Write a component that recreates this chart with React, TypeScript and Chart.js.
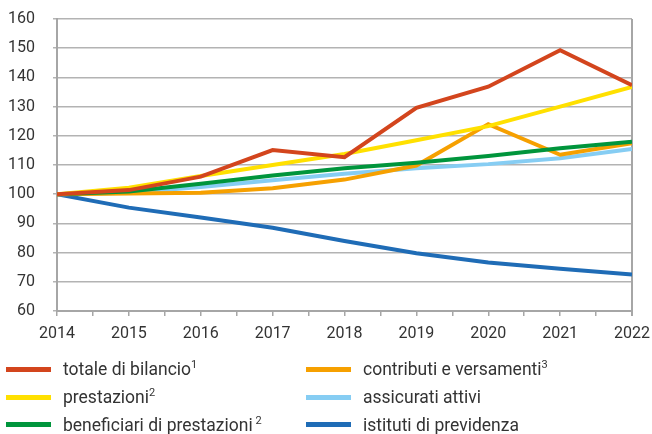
import React, { useEffect, useRef } from "react";
import { Chart, registerables } from "chart.js";

Chart.register(...registerables);

const years = [2014, 2015, 2016, 2017, 2018, 2019, 2020, 2021, 2022];
const totaleDiBilancio = [100, 101.4, 106, 115.1, 112.7, 129.6, 136.8, 149.3, 137.3];
const prestazioni = [100, 102.2, 106.2, 110, 113.8, 118.5, 123.3, 130, 136.7];
const beneficiari = [100, 100.9, 103.6, 106.4, 108.9, 110.8, 113.1, 115.7, 118];
const contributi = [100, 100.2, 100.5, 102, 105, 109.8, 124, 113.5, 117.5];
const assicurati = [100, 100.5, 102.5, 104.8, 107, 108.9, 110.3, 112.3, 115.5];
const istituti = [100, 95.4, 92, 88.5, 84, 79.8, 76.6, 74.5, 72.5];
const yTicks = [60, 70, 80, 90, 100, 110, 120, 130, 140, 150, 160];

const seriesLabels = [
  "totale di bilancio",
  "prestazioni",
  "beneficiari di prestazioni",
  "contributi e versamenti",
  "assicurati attivi",
  "istituti di previdenza",
];
const seriesNotes = ["1", "2", " 2", "3", "", ""];
const seriesColors = ["#d3451d", "#ffe000", "#00953c", "#f6a000", "#86cdf3", "#1f6cb6"];
const seriesData = [totaleDiBilancio, prestazioni, beneficiari, contributi, assicurati, istituti];

const FONT = "Roboto, 'Noto Sans', sans-serif";

const frame = {
  id: "frame",
  beforeDatasetsDraw(chart: any) {
    const { ctx, chartArea } = chart;
    ctx.save();
    ctx.strokeStyle = "#a6a6a6";
    ctx.lineWidth = 2;
    ctx.beginPath();
    ctx.moveTo(chartArea.right, chartArea.top);
    ctx.lineTo(chartArea.right, chartArea.bottom + 5);
    ctx.stroke();
    ctx.restore();
  },
};

export default function App() {
  const ref = useRef<HTMLCanvasElement | null>(null);

  useEffect(() => {
    if (!ref.current) return;
    const chart = new Chart(ref.current, {
      type: "line",
      data: {
        datasets: seriesLabels.map((lab, i) => ({
          label: lab,
          data: years.map((y, k) => ({ x: y, y: seriesData[i][k] })),
          borderColor: seriesColors[i],
          backgroundColor: seriesColors[i],
          borderWidth: 4,
          pointRadius: 0,
          tension: 0,
          fill: false,
        })),
      },
      options: {
        animation: false,
        responsive: false,
        maintainAspectRatio: false,
        layout: { autoPadding: false, padding: { left: 7, right: 20, top: 19, bottom: 91 } },
        plugins: { legend: { display: false }, tooltip: { enabled: false } },
        scales: {
          x: {
            type: "linear",
            min: years[0],
            max: years[years.length - 1],
            afterFit: (axis: any) => {
              axis.height = 32;
              axis.paddingLeft = 0;
              axis.paddingRight = 0;
            },
            ticks: {
              stepSize: 0.5,
              autoSkip: false,
              maxRotation: 0,
              padding: 8,
              color: "#333333",
              font: { family: FONT, size: 16 },
              callback: (v: any) => (Number.isInteger(v) ? String(v) : ""),
            },
            grid: {
              drawOnChartArea: false,
              drawTicks: true,
              tickLength: 5,
              color: "#a6a6a6",
              lineWidth: 1.5,
            },
            border: { color: "#a6a6a6", width: 2 },
          },
          y: {
            min: yTicks[0],
            max: yTicks[yTicks.length - 1],
            afterFit: (axis: any) => {
              axis.width = 50;
              axis.paddingTop = 0;
              axis.paddingBottom = 0;
            },
            afterBuildTicks: (axis: any) => {
              axis.ticks = yTicks.map((v) => ({ value: v }));
            },
            ticks: {
              padding: 18,
              color: "#333333",
              font: { family: FONT, size: 16 },
            },
            grid: {
              color: "#b3b3b3",
              lineWidth: 1.5,
              tickLength: 4,
            },
            border: { color: "#a6a6a6", width: 2 },
          },
        },
      },
      plugins: [frame],
    });
    return () => chart.destroy();
  }, []);

  const rows = [369, 397, 424.5];
  const legendPos = [
    { col: 0, row: 0 },
    { col: 0, row: 1 },
    { col: 0, row: 2 },
    { col: 1, row: 0 },
    { col: 1, row: 1 },
    { col: 1, row: 2 },
  ];
  const colX = [6, 306];

  return (
    <div style={{ position: "fixed", left: 0, top: 0, width: 652, height: 434, background: "#fff" }}>
      <canvas ref={ref} width={652} height={434} style={{ position: "absolute", left: 0, top: 0 }} />
      {seriesLabels.map((lab, i) => {
        const p = legendPos[i];
        return (
          <div
            key={lab}
            style={{
              position: "absolute",
              left: colX[p.col],
              top: rows[p.row] - 12,
              height: 24,
              display: "flex",
              alignItems: "center",
              fontFamily: FONT,
              fontSize: 17.5,
              color: "#333333",
              whiteSpace: "nowrap",
            }}
          >
            <div style={{ width: 45, height: 5, background: seriesColors[i], marginRight: 12 }} />
            <span>
              {lab}
              {seriesNotes[i] ? (
                <sup style={{ fontSize: 11, verticalAlign: "7px", lineHeight: 0 }}>{seriesNotes[i]}</sup>
              ) : null}
            </span>
          </div>
        );
      })}
    </div>
  );
}
